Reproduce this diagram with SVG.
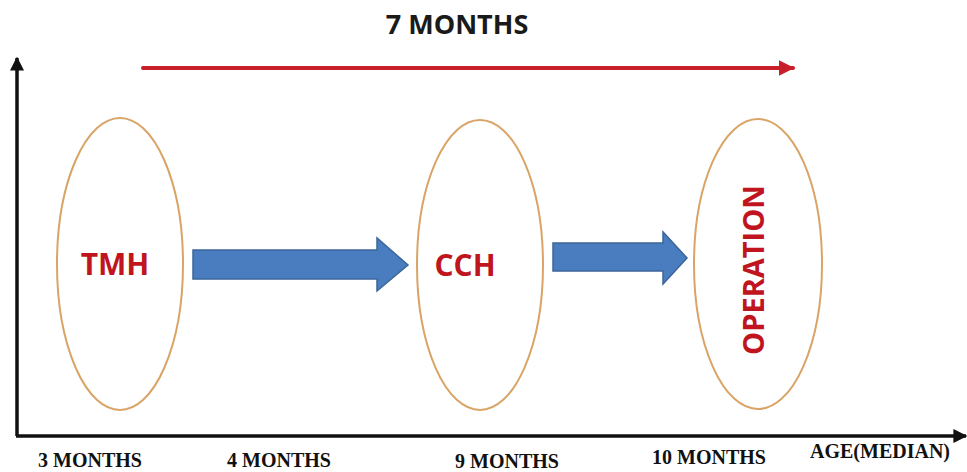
<svg xmlns="http://www.w3.org/2000/svg" width="967" height="472" viewBox="0 0 967 472">
<defs>
<style>
.ell{fill:none;stroke:#d9a466;stroke-width:2}
.blk{fill:#4a7dbf;stroke:#3b6698;stroke-width:1.5}
.node{font-family:"Open Sans","Liberation Sans",sans-serif;font-weight:bold;fill:#c0141f}
.lbl{font-family:"Liberation Serif","Times New Roman",serif;font-weight:bold;font-size:20px;fill:#111}
.title{font-family:"Open Sans","Liberation Sans",sans-serif;font-weight:bold;font-size:27px;fill:#1a1a1a}
</style>
<marker id="ah" viewBox="0 0 10 10" refX="9" refY="5" markerWidth="4" markerHeight="4" orient="auto" markerUnits="strokeWidth">
<path d="M0,0 L10,5 L0,10 z" fill="#111"/>
</marker>
<marker id="rh" viewBox="0 0 10 10" refX="9" refY="5" markerWidth="4" markerHeight="4" orient="auto" markerUnits="strokeWidth">
<path d="M0,0 L10,5 L0,10 z" fill="#c8202b"/>
</marker>
</defs>
<rect width="967" height="472" fill="#fff"/>
<g id="axes">
<line x1="17" y1="436" x2="17" y2="58" stroke="#111" stroke-width="3.5" marker-end="url(#ah)"/>
<line x1="16" y1="436" x2="966" y2="436" stroke="#111" stroke-width="3.5" marker-end="url(#ah)"/>
</g>
<g id="title">
<text class="title" x="457" y="34" text-anchor="middle">7 MONTHS</text>
</g>
<g id="connectors">
<line x1="143" y1="68" x2="793" y2="68" stroke="#c8202b" stroke-width="4" stroke-linecap="round" marker-end="url(#rh)"/>
<path class="blk" d="M193,250 L377,250 L377,238 L408,265 L377,291 L377,279 L193,279 Z"/>
<path class="blk" d="M553,243 L663,243 L663,232 L687,258 L663,284 L663,271 L553,271 Z"/>
</g>
<g id="tmh">
<ellipse class="ell" cx="120" cy="264" rx="63" ry="146"/>
<text class="node" x="115" y="275" font-size="30" text-anchor="middle">TMH</text>
</g>
<g id="cch">
<ellipse class="ell" cx="480" cy="265" rx="63" ry="145"/>
<text class="node" x="465" y="276" font-size="30" text-anchor="middle">CCH</text>
</g>
<g id="operation">
<ellipse class="ell" cx="758" cy="264" rx="64" ry="145"/>
<text class="node" transform="translate(764,270) rotate(-90)" x="0" y="0" font-size="29" text-anchor="middle">OPERATION</text>
</g>
<g id="labels">
<text class="lbl" x="38" y="467">3 MONTHS</text>
<text class="lbl" x="227" y="467">4 MONTHS</text>
<text class="lbl" x="455" y="468">9 MONTHS</text>
<text class="lbl" x="652" y="464">10 MONTHS</text>
<text class="lbl" x="810" y="458">AGE(MEDIAN)</text>
</g>
</svg>
